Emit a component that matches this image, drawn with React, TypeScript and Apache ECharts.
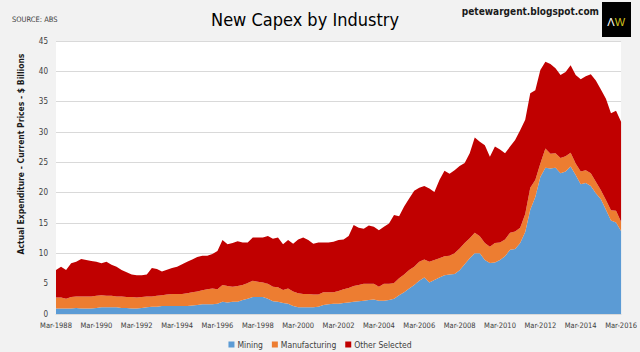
import React, { useEffect, useRef } from "react";
import * as echarts from "echarts";

const months = ["Mar", "Jun", "Sep", "Dec"];
const categories: string[] = [];
for (let y = 1988; y <= 2016; y++) {
  for (const m of months) {
    if (y === 2016 && m !== "Mar") break;
    categories.push(`${m}-${y}`);
  }
}

const mining = [
  0.9, 0.9, 0.9, 0.9, 1.0, 0.9, 0.9, 0.9, 1.0, 1.1, 1.1, 1.1, 1.1, 1.0, 1.0, 0.9,
  0.9, 1.0, 1.1, 1.2, 1.2, 1.3, 1.3, 1.3, 1.3, 1.3, 1.3, 1.4, 1.5, 1.6, 1.6, 1.6,
  1.7, 2.0, 1.9, 2.0, 2.0, 2.3, 2.5, 2.8, 2.8, 2.8, 2.5, 2.1, 2.0, 1.8, 1.7, 1.3,
  1.1, 1.1, 1.1, 1.1, 1.2, 1.5, 1.6, 1.7, 1.7, 1.8, 1.9, 2.0, 2.1, 2.2, 2.3, 2.4,
  2.2, 2.2, 2.3, 2.5, 3.1, 3.6, 4.2, 4.8, 5.5, 6.0, 5.2, 5.6, 6.0, 6.4, 6.5, 6.6,
  7.2, 8.2, 9.2, 10.0, 10.0, 8.9, 8.4, 8.5, 8.9, 9.5, 10.6, 10.7, 11.7, 13.5, 17.2, 19.3,
  22.6, 24.1, 24.0, 24.1, 23.2, 23.5, 24.3, 22.9, 21.4, 21.6, 21.1, 19.9, 18.9, 17.2, 15.4, 15.1,
  13.7,
];

const manufacturing = [
  1.8, 1.8, 1.6, 1.9, 1.9, 2.0, 2.0, 2.0, 2.0, 2.0, 1.9, 1.9, 1.8, 1.9, 1.8, 1.9,
  1.8, 1.8, 1.8, 1.7, 1.8, 1.8, 1.9, 2.0, 2.0, 2.0, 2.1, 2.2, 2.2, 2.3, 2.5, 2.6,
  2.4, 2.8, 2.7, 2.5, 2.6, 2.5, 2.6, 2.7, 2.5, 2.4, 2.5, 2.4, 2.4, 2.15, 2.5, 2.4,
  2.3, 2.2, 2.2, 2.1, 2.0, 2.1, 2.0, 1.9, 2.1, 2.3, 2.4, 2.6, 2.7, 2.8, 2.7, 2.6,
  2.3, 2.8, 2.7, 2.6, 2.8, 2.9, 3.05, 3.0, 3.1, 3.0, 3.4, 3.3, 3.2, 3.1, 3.1, 3.4,
  3.6, 3.5, 3.3, 3.4, 2.8, 2.8, 2.7, 3.2, 2.9, 2.8, 2.8, 2.9, 2.5, 3.0, 3.6, 2.8,
  2.2, 3.2, 2.4, 2.4, 2.5, 2.5, 2.3, 1.9, 2.1, 2.1, 2.1, 1.9, 1.5, 1.6, 1.7, 1.9,
  1.5,
];

const otherSelected = [
  4.55, 5.1, 4.75, 5.55, 5.7, 6.15, 6.0, 5.85, 5.6, 5.25, 5.6, 5.1, 4.9, 4.35, 4.1, 3.7,
  3.7, 3.6, 3.6, 4.7, 4.4, 3.9, 4.1, 4.3, 4.5, 4.9, 5.2, 5.4, 5.7, 5.7, 5.5, 5.7,
  6.3, 7.4, 6.9, 7.2, 7.4, 7.0, 6.7, 7.1, 7.3, 7.4, 7.85, 7.9, 8.2, 7.55, 8.0, 7.9,
  8.9, 9.3, 8.9, 8.4, 8.6, 8.2, 8.2, 8.3, 8.4, 8.2, 8.55, 10.05, 9.4, 9.05, 9.6, 9.4,
  9.3, 9.4, 9.9, 11.2, 10.2, 11.2, 11.8, 12.5, 12.2, 12.1, 12.1, 11.2, 12.9, 14.1, 13.5, 13.7,
  13.6, 13.2, 14.0, 15.7, 15.6, 16.1, 14.8, 15.9, 15.3, 14.2, 14.2, 15.1, 16.1, 15.5, 15.6, 14.8,
  15.4, 14.3, 14.8, 14.0, 13.7, 13.9, 14.4, 14.6, 15.2, 15.5, 16.3, 16.7, 16.6, 16.7, 16.0, 16.5,
  16.5,
];

const seriesNames = ["Mining", "Manufacturing", "Other Selected"];
const seriesColors = ["#5b9bd5", "#ed7d31", "#c00000"];

const NARROW = "'Liberation Sans Narrow', 'Arial Narrow', 'DejaVu Sans Condensed', sans-serif";

export default function App() {
  const ref = useRef<HTMLDivElement>(null);
  useEffect(() => {
    if (!ref.current) return;
    const chart = echarts.init(ref.current, null, { renderer: "svg" });
    const datas = [mining, manufacturing, otherSelected];
    chart.setOption({
      animation: false,
      backgroundColor: "#f2f2f2",
      grid: {
        left: 56,
        right: 17,
        top: 41,
        bottom: 38,
        show: true,
        backgroundColor: "#ffffff",
        borderWidth: 0,
      },
      legend: {
        data: seriesNames,
        top: 340,
        left: "center",
        icon: "rect",
        itemWidth: 6,
        itemHeight: 6,
        itemGap: 9,
        padding: 0,
        textStyle: { fontFamily: NARROW, fontSize: 8.5, color: "#404040", padding: [0, 0, 0, -2] },
      },
      xAxis: {
        type: "category",
        data: categories,
        boundaryGap: false,
        axisLine: { lineStyle: { color: "#d9d9d9" } },
        axisTick: { show: false },
        axisLabel: {
          interval: 7,
          fontFamily: NARROW,
          fontSize: 7.5,
          color: "#404040",
          margin: 7,
        },
        splitLine: { show: false },
      },
      yAxis: {
        type: "value",
        min: 0,
        max: 45,
        interval: 5,
        axisLine: { show: false },
        axisTick: { show: false },
        axisLabel: { fontFamily: NARROW, fontSize: 8, color: "#404040", margin: 8 },
        splitLine: { lineStyle: { color: "#d9d9d9", width: 1 } },
      },
      series: seriesNames.map((name, k) => ({
        name,
        type: "line",
        stack: "total",
        data: datas[k],
        symbol: "none",
        lineStyle: { width: 0 },
        itemStyle: { color: seriesColors[k] },
        areaStyle: { color: seriesColors[k], opacity: 1 },
        z: 2,
      })),
      graphic: [
        {
          type: "text",
          left: 12,
          top: 15,
          style: { text: "SOURCE: ABS", fontFamily: NARROW, fontSize: 7.5, fill: "#404040" },
        },
        {
          type: "text",
          x: 305,
          y: 19,
          style: {
            text: "New Capex by Industry",
            fontFamily: NARROW,
            fontSize: 18,
            fill: "#000000",
            align: "center",
            verticalAlign: "middle",
          },
        },
        {
          type: "text",
          x: 599,
          y: 11,
          style: {
            text: "petewargent.blogspot.com",
            fontFamily: NARROW,
            fontSize: 10,
            fontWeight: "bold",
            fill: "#1a1a1a",
            align: "right",
            verticalAlign: "middle",
          },
        },
        {
          type: "rect",
          shape: { x: 602, y: 2, width: 29, height: 35 },
          style: { fill: "#000000" },
        },
        {
          type: "text",
          x: 611,
          y: 22,
          style: {
            text: "Λ",
            fontFamily: "'Liberation Sans', sans-serif",
            fontSize: 11,
            fill: "#ffffff",
            align: "center",
            verticalAlign: "middle",
          },
        },
        {
          type: "text",
          x: 620,
          y: 22,
          style: {
            text: "W",
            fontFamily: "'Liberation Sans', sans-serif",
            fontSize: 11,
            fill: "#d4c21c",
            align: "center",
            verticalAlign: "middle",
          },
        },
        {
          type: "text",
          x: 21,
          y: 154,
          rotation: Math.PI / 2,
          style: {
            text: "Actual Expenditure - Current Prices - $ Billions",
            fontFamily: NARROW,
            fontSize: 8.5,
            fontWeight: "bold",
            fill: "#1a1a1a",
            align: "center",
            verticalAlign: "middle",
          },
        },
      ],
    });
    return () => chart.dispose();
  }, []);
  return (
    <div
      ref={ref}
      style={{ position: "absolute", left: 0, top: 0, width: 640, height: 352 }}
    />
  );
}
